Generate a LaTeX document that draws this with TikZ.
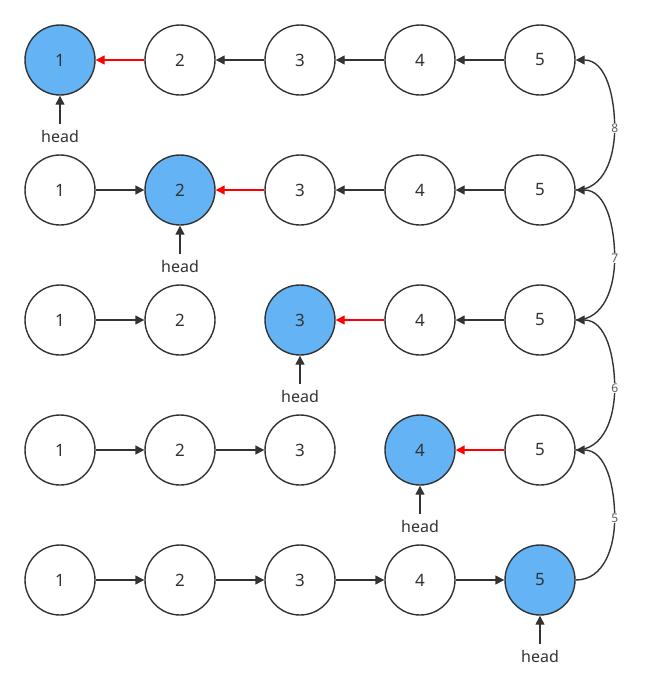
\documentclass[tikz,border=0pt]{standalone}
\usepackage{fontspec}
\setmainfont{Noto Sans}
\usetikzlibrary{arrows.meta,calc}
\definecolor{stroke}{HTML}{333333}
\definecolor{bluefill}{HTML}{63B3F5}
\tikzset{
  nd/.style={circle, draw=stroke, line width=1.4pt, minimum size=70pt, inner sep=0pt, fill=white, font=\fontsize{17}{17}\selectfont, text=stroke},
  hl/.style={nd, fill=bluefill},
  arr/.style={draw=stroke, line width=1.4pt, -{Triangle[length=9pt,width=9pt]}},
  redarr/.style={arr, draw=red, -{Triangle[length=9pt,width=9pt,fill=red]}},
  headlbl/.style={font=\fontsize{16}{16}\selectfont, text=stroke, inner sep=0pt},
  cl/.style={fill=white, font=\fontsize{12}{12}\selectfont, text=stroke!80, inner sep=1pt}
}
\begin{document}
\begin{tikzpicture}[x=1pt,y=-1pt]
\useasboundingbox (0,0) rectangle (651,691);
% rows
\foreach \r/\y in {1/60,2/190,3/320,4/450,5/580}{
  \foreach \c/\x in {1/60,2/180,3/300,4/420,5/540}{
    \ifnum\r=\c
      \node[hl] (n\r\c) at (\x,\y) {\c};
    \else
      \node[nd] (n\r\c) at (\x,\y) {\c};
    \fi
  }
}
% head labels
\foreach \r/\x/\y in {1/60/60,2/180/190,3/300/320,4/420/450,5/540/580}{
  \node[headlbl] (h\r) at (\x,\y+76) {head};
  \coordinate (hs\r) at (\x,\y+64);
  \draw[arr] (hs\r) -- (n\r\r);
}
% row 1
\draw[redarr] (n12) -- (n11);
\draw[arr] (n13) -- (n12);
\draw[arr] (n14) -- (n13);
\draw[arr] (n15) -- (n14);
% row 2
\draw[arr] (n21) -- (n22);
\draw[redarr] (n23) -- (n22);
\draw[arr] (n24) -- (n23);
\draw[arr] (n25) -- (n24);
% row 3
\draw[arr] (n31) -- (n32);
\draw[redarr] (n34) -- (n33);
\draw[arr] (n35) -- (n34);
% row 4
\draw[arr] (n41) -- (n42);
\draw[arr] (n42) -- (n43);
\draw[redarr] (n45) -- (n44);
% row 5
\draw[arr] (n51) -- (n52);
\draw[arr] (n52) -- (n53);
\draw[arr] (n53) -- (n54);
\draw[arr] (n54) -- (n55);
% curves
\foreach \a/\b/\lab in {5/4/5,4/3/6,3/2/7,2/1/8}{
  \draw[arr] (n\a5.east) to[out=0,in=-90] ($(n\a5.east)!0.5!(n\b5.east)+(39,3)$) coordinate (m\a) to[out=90,in=0] (n\b5.east);
  \node[cl] (l\a) at (m\a) {\lab};
}
\end{tikzpicture}
\end{document}
